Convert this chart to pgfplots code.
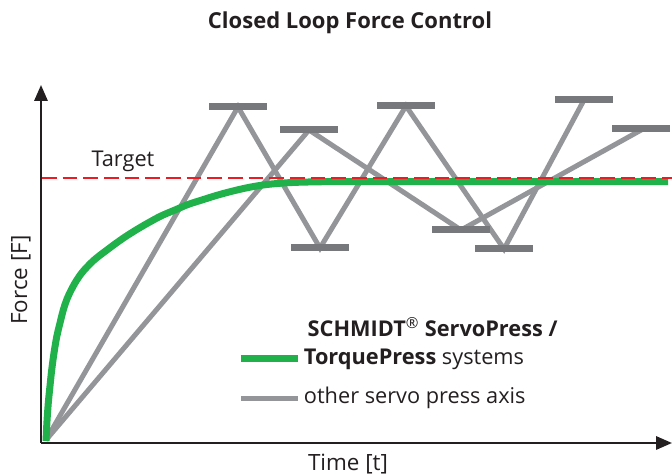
\documentclass[border=0pt]{standalone}
\usepackage{pgfplots}
\pgfplotsset{compat=1.18}
\usepackage{fontspec}
\setmainfont{Open Sans}
\usetikzlibrary{arrows.meta}

\definecolor{spgreen}{RGB}{33,177,75}
\definecolor{linegray}{RGB}{147,149,152}
\definecolor{bargray}{RGB}{119,120,123}
\definecolor{targetred}{RGB}{237,28,36}
\definecolor{axisblack}{RGB}{35,31,32}

\begin{document}
\begin{tikzpicture}
\begin{axis}[
    scale only axis,
    width=473.25pt, height=268.5pt,
    xmin=0, xmax=631, ymin=0, ymax=358,
    axis lines=left,
    axis line style={axisblack, line width=1.6pt, -{Triangle[width=10pt,length=12pt]}},
    xtick=\empty, ytick=\empty,
    clip=false,
    legend cell align=left,
    legend image code/.code={\draw[#1] (0pt,0pt) -- (42.75pt,0pt);},
    legend style={at={(axis cs:192,100)}, anchor=north west, draw=none, fill=none,
        font=\fontsize{16.3}{18}\selectfont, row sep=10pt,
        nodes={text height=12pt, text depth=3.5pt, text=axisblack}},
]
% legend images
\addlegendimage{spgreen, line width=5.25pt}
\addlegendentry{\textbf{TorquePress} systems}
\addlegendimage{linegray, line width=3.75pt}
\addlegendentry{other servo press axis}

% other servo press axis, steep run
\addplot[forget plot, linegray, line width=3.75pt, line join=miter] coordinates {
    (5,3) (197,336) (279,195) (365,337) (463,194) (543,343)
};
% other servo press axis, shallow run
\addplot[forget plot, linegray, line width=3.75pt, line join=miter] coordinates {
    (5,3) (268,313) (420,213) (602,314)
};
% peak / valley bars
\addplot[forget plot, only marks, mark=-, mark size=21.4pt,
    mark options={bargray, line width=5.25pt}] coordinates {
    (197,336) (268,313) (279,195) (365,337) (420,213) (463,194) (543,343) (600,314)
};
% SCHMIDT ServoPress / TorquePress
\addplot[forget plot, spgreen, line width=5.25pt, smooth, tension=0.6] coordinates {
    (5,2) (6,22) (7.3,40) (9,57) (10.7,73) (13,90) (15.7,106) (19,120) (22.3,133)
    (26,144) (30.7,154) (35.5,162.5) (40.7,170) (46,176) (52,182) (58,187)
    (64,191.5) (74,199) (84,206) (95,213) (107,220) (120,227) (134,233) (147,238.5)
    (161,243) (177,248) (194,252.5) (210,256) (226,258.5) (243,260) (259,260.8)
    (280,261.2) (300,261.4) (627,261.4)
};
% target
\addplot[forget plot, targetred, line width=1.1pt, dash pattern=on 11pt off 4.5pt] coordinates {
    (1,265) (631,265)
};

\node[font=\fontsize{16.3}{18}\selectfont, text=axisblack] at (axis cs:82,282) {Target};
\node[font=\fontsize{16.3}{18}\selectfont\bfseries, text=axisblack, anchor=west]
    at (axis cs:262,116) {SCHMIDT\textsuperscript{\normalfont ®} ServoPress /};
\node[font=\fontsize{16.8}{18}\selectfont, text=axisblack, rotate=90] at (axis cs:-20,163) {Force [F]};
\node[font=\fontsize{16.8}{18}\selectfont, text=axisblack] at (axis cs:307,-21) {Time [t]};
\node[font=\fontsize{16.5}{18}\selectfont\bfseries, text=axisblack] at (axis cs:309,420) {Closed Loop Force Control};

\coordinate (bl) at (axis cs:-41,-32);
\coordinate (tr) at (axis cs:631,443);
\end{axis}
\pgfresetboundingbox
\path[use as bounding box] (bl) rectangle (tr);
\end{tikzpicture}
\end{document}
